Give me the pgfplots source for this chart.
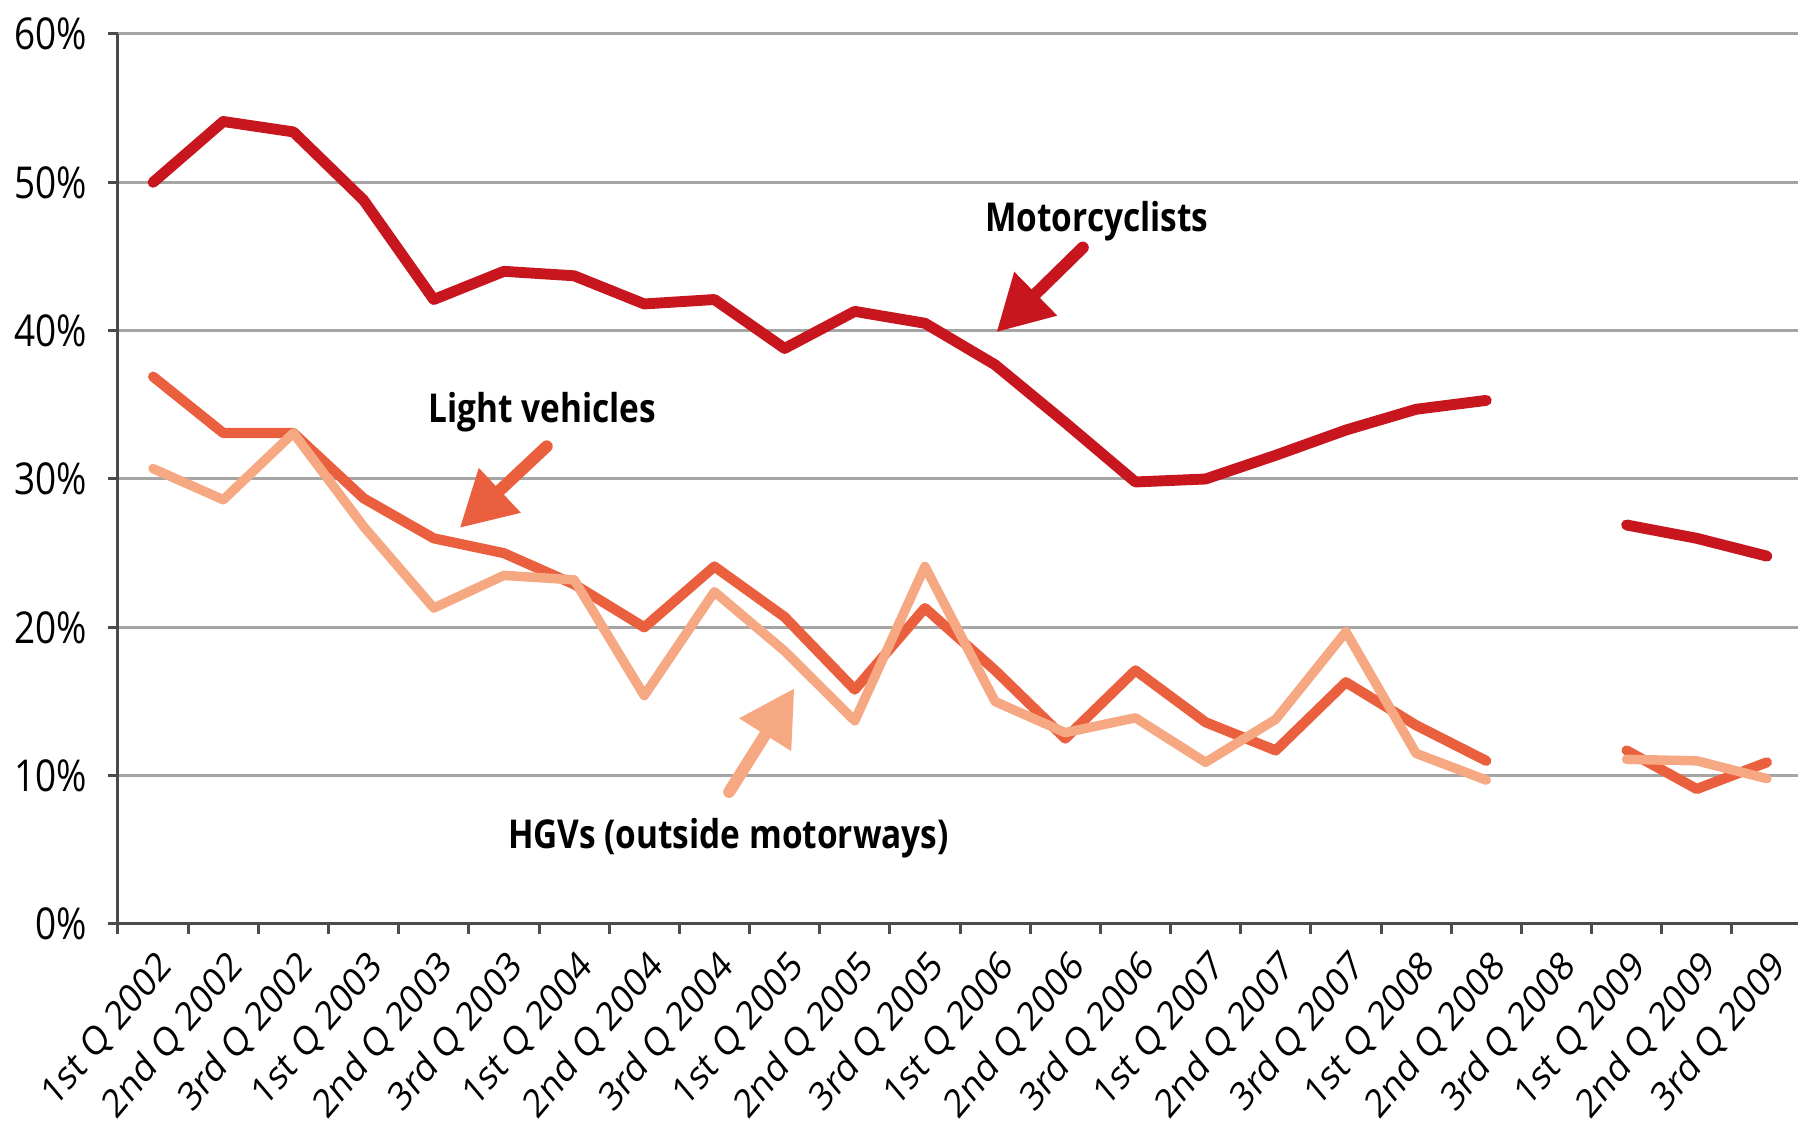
\documentclass[border=0pt]{standalone}
\usepackage{graphicx}
\usepackage{pgfplots}
\pgfplotsset{compat=1.18}
\usepackage{pgfplotstable}
\usepackage{fontspec}
\setmainfont{Open Sans}
\usetikzlibrary{arrows.meta}
\definecolor{moto}{RGB}{200,22,30}
\definecolor{lightv}{RGB}{234,96,62}
\definecolor{hgv}{RGB}{245,168,130}
\definecolor{gridgray}{RGB}{165,165,165}
\definecolor{axisgray}{RGB}{75,75,75}
\newcommand\ys[1]{\scalebox{1}[1.19]{#1}}

\pgfplotstableread{
x moto light hgv
0  50.0 36.9 30.7
1  54.1 33.1 28.6
2  53.4 33.1 33.1
3  48.8 28.7 26.8
4  42.1 26.0 21.3
5  44.0 25.0 23.5
6  43.7 22.9 23.2
7  41.8 20.0 15.4
8  42.1 24.1 22.4
9  38.8 20.7 18.4
10 41.3 15.8 13.7
11 40.5 21.3 24.1
12 37.7 17.1 15.0
13 33.8 12.5 12.9
14 29.8 17.1 13.9
15 30.0 13.6 10.9
16 31.6 11.7 13.8
17 33.3 16.3 19.7
18 34.7 13.4 11.5
19 35.3 11.0 9.7
20 nan  nan  nan
21 26.9 11.7 11.1
22 26.0 9.1  11.0
23 24.8 10.9 9.8
}\datatable

\begin{document}
\begin{tikzpicture}
\useasboundingbox (-11.8mm,-21.1mm) rectangle (168.0mm,92.4mm);
\begin{axis}[
  at={(0,0)}, anchor=south west, scale only axis,
  width=168.4mm, height=89mm,
  xmin=-0.5, xmax=23.5, ymin=0, ymax=60,
  axis lines*=left,
  axis line style={axisgray, line width=0.3mm},
  unbounded coords=jump,
  xtick={0,...,23},
  xticklabels={1st Q 2002,2nd Q 2002,3rd Q 2002,1st Q 2003,2nd Q 2003,3rd Q 2003,1st Q 2004,2nd Q 2004,3rd Q 2004,1st Q 2005,2nd Q 2005,3rd Q 2005,1st Q 2006,2nd Q 2006,3rd Q 2006,1st Q 2007,2nd Q 2007,3rd Q 2007,1st Q 2008,2nd Q 2008,3rd Q 2008,1st Q 2009,2nd Q 2009,3rd Q 2009},
  minor xtick={-0.5,0.5,...,23.5},
  ytick={0,10,...,60},
  minor ytick={0,10,...,60},
  yticklabels={\ys{0\%},\ys{10\%},\ys{20\%},\ys{30\%},\ys{40\%},\ys{50\%},\ys{60\%}},
  major tick length=0pt,
  minor tick length=1mm,
  tick align=outside,
  tick style={axisgray, line width=0.3mm},
  ymajorgrids,
  major grid style={gridgray, line width=0.3mm},
  xticklabel style={font=\fontsize{9.5}{11}\selectfont, inner sep=0pt, xshift=1.4mm, yshift=-3.6mm, cm={0.7071,0.8415,-0.7071,0.8415,(0,0)}, anchor=east},
  yticklabel style={font=\fontsize{10.5}{12}\selectfont, inner sep=0pt, xshift=-3mm, anchor=east},
]
\addplot[moto, line width=3.1pt, line join=round, line cap=round] table[x=x,y=moto]{\datatable};
\addplot[lightv, line width=2.9pt, line join=round, line cap=round] table[x=x,y=light]{\datatable};
\addplot[hgv, line width=2.7pt, line join=round, line cap=round] table[x=x,y=hgv]{\datatable};

\node[font=\bfseries\fontsize{9.5}{11}\selectfont] at (axis cs:13.45,47.4) {\ys{Motorcyclists}};
\draw[moto, line width=1.2mm, line cap=round, -{Triangle[length=5.5mm,width=5.8mm]}] (axis cs:13.25,45.6) -- (axis cs:12.02,39.9);

\node[font=\bfseries\fontsize{9.5}{11}\selectfont] at (axis cs:5.55,34.5) {\ys{Light vehicles}};
\draw[lightv, line width=1.2mm, line cap=round, -{Triangle[length=5.5mm,width=5.8mm]}] (axis cs:5.61,32.2) -- (axis cs:4.37,26.7);

\node[font=\bfseries\fontsize{9.5}{11}\selectfont] at (axis cs:8.2,5.8) {\ys{HGVs (outside motorways)}};
\draw[hgv, line width=1.2mm, line cap=round, -{Triangle[length=5.5mm,width=5.8mm]}] (axis cs:8.21,8.9) -- (axis cs:9.14,15.9);
\end{axis}
\end{tikzpicture}
\end{document}
